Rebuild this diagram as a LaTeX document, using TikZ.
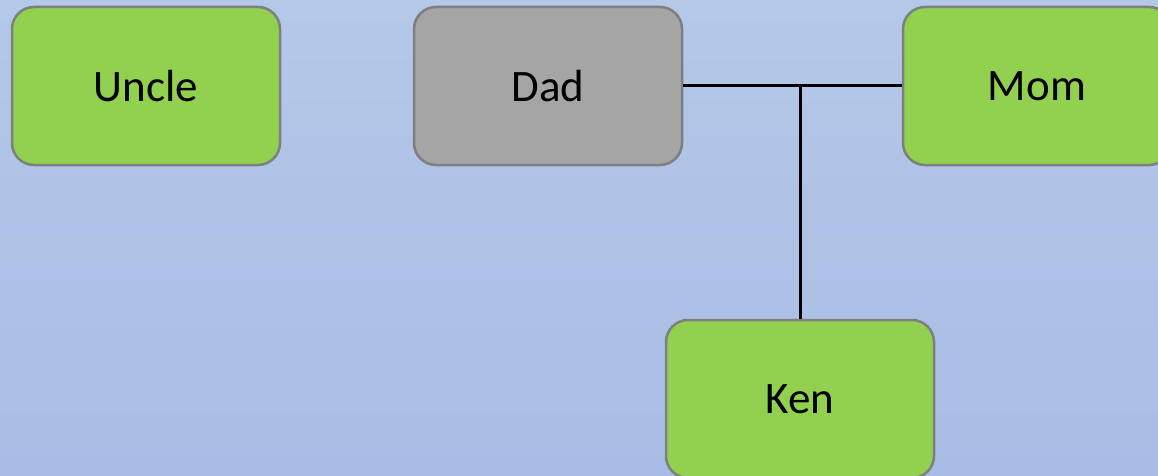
\documentclass[tikz,border=0pt]{standalone}
\usepackage{fontspec}
\setmainfont{Carlito}
\usepackage{xcolor}
\usetikzlibrary{positioning}

\definecolor{bgtop}{HTML}{B4C8E8}
\definecolor{bgbottom}{HTML}{A9BCE5}
\definecolor{boxgreen}{HTML}{92D050}
\definecolor{boxgray}{HTML}{A5A5A5}
\definecolor{boxline}{HTML}{7F7F7F}

\begin{document}
\begin{tikzpicture}[x=1pt, y=-1pt, every node/.style={rectangle, rounded corners=22pt, draw=boxline, line width=2.5pt, fill=boxgreen, minimum width=268pt, minimum height=158pt, font=\fontsize{45}{54}\selectfont}]
                    % Background
                    \useasboundingbox (0,0) rectangle (1158,476);
                    \clip (0,0) rectangle (1158,476);
                    \shade[top color=bgtop, bottom color=bgbottom] (0,0) rectangle (1158,476);

                    % Nodes
                    \node (uncle) at (146, 86) {Uncle};
                    \node[fill=boxgray] (dad) at (548, 86) {Dad};
                    \node (mom) at (1037, 86) {Mom};
                    \node (ken) at (800, 399) {Ken};

                    % Edges
                    \coordinate (couple) at (800, 86);
                    \draw[line width=3pt] (dad) -- (mom);
                    \draw[line width=3pt] (couple) -- (ken);
                \end{tikzpicture}
\end{document}
